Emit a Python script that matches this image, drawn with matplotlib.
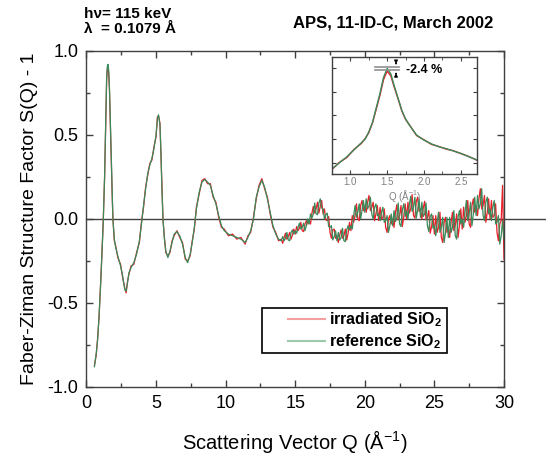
import numpy as np
import matplotlib
matplotlib.use("Agg")
import matplotlib.pyplot as plt
from matplotlib.lines import Line2D
from matplotlib.patches import Rectangle
from matplotlib.ticker import MultipleLocator, NullFormatter, FormatStrFormatter

plt.rcParams['font.family'] = ['Liberation Sans', 'DejaVu Sans']
plt.rcParams['mathtext.fontset'] = 'custom'
plt.rcParams['mathtext.rm'] = 'Liberation Sans'
plt.rcParams['mathtext.bf'] = 'Liberation Sans:bold'

# smooth low-Q part
q_low = [0.57, 0.7, 0.8, 0.9, 1.0, 1.1, 1.2, 1.3, 1.35, 1.4, 1.45, 1.5, 1.55, 1.6,
         1.65, 1.7, 1.75, 1.8, 1.85, 1.9, 2.0, 2.1, 2.25, 2.45, 2.6, 2.75, 2.85,
         2.95, 3.05, 3.2, 3.4, 3.6, 3.8, 3.95, 4.1, 4.25, 4.4, 4.55, 4.7, 4.85,
         5.0, 5.1, 5.18, 5.28, 5.35, 5.42, 5.5, 5.6, 5.7, 5.85, 6.0, 6.15, 6.3,
         6.5, 6.7, 6.9, 7.1, 7.27, 7.45, 7.6, 7.75, 7.9, 8.1, 8.3, 8.5, 8.7, 8.9,
         9.1, 9.3, 9.5, 9.7, 9.9, 10.2, 10.5, 10.8, 11.1, 11.4, 11.6, 11.8, 12.0,
         12.2, 12.4, 12.6, 12.8, 13.0, 13.2, 13.4, 13.6, 13.8, 14.0]
ref_low = [-0.88, -0.80, -0.72, -0.58, -0.42, -0.22, -0.03, 0.25, 0.45, 0.68, 0.85,
           0.91, 0.92, 0.88, 0.78, 0.62, 0.45, 0.28, 0.12, 0.0, -0.12, -0.17, -0.22,
           -0.28, -0.34, -0.42, -0.43, -0.38, -0.32, -0.29, -0.26, -0.21, -0.13,
           -0.03, 0.08, 0.18, 0.27, 0.32, 0.36, 0.42, 0.50, 0.60, 0.62, 0.56, 0.40,
           0.18, 0.0, -0.12, -0.19, -0.23, -0.19, -0.14, -0.09, -0.075, -0.10,
           -0.15, -0.23, -0.26, -0.21, -0.14, -0.05, 0.06, 0.16, 0.22, 0.235, 0.22,
           0.20, 0.14, 0.09, 0.02, -0.04, -0.07, -0.09, -0.10, -0.11, -0.12, -0.14,
           -0.11, -0.07, 0.0, 0.13, 0.19, 0.23, 0.19, 0.12, 0.04, -0.04, -0.09,
           -0.12, -0.13]
irr_low = [-0.87, -0.81, -0.71, -0.59, -0.41, -0.23, -0.02, 0.24, 0.44, 0.67, 0.83,
           0.89, 0.90, 0.86, 0.77, 0.61, 0.46, 0.27, 0.13, 0.0, -0.13, -0.16, -0.23,
           -0.27, -0.35, -0.41, -0.44, -0.37, -0.33, -0.28, -0.27, -0.20, -0.14,
           -0.02, 0.07, 0.19, 0.26, 0.33, 0.35, 0.43, 0.49, 0.61, 0.61, 0.57, 0.39,
           0.19, -0.01, -0.11, -0.20, -0.22, -0.20, -0.13, -0.10, -0.07, -0.11,
           -0.14, -0.24, -0.25, -0.22, -0.13, -0.06, 0.07, 0.15, 0.23, 0.24, 0.21,
           0.21, 0.13, 0.10, 0.01, -0.05, -0.06, -0.10, -0.09, -0.12, -0.11, -0.15,
           -0.10, -0.08, 0.01, 0.12, 0.20, 0.24, 0.18, 0.13, 0.03, -0.05, -0.08,
           -0.13, -0.12]

# noisy high-Q part, Q = 14.1 ... 30.0
q_high = [14.1, 14.2, 14.3, 14.4, 14.5, 14.6, 14.7, 14.8, 14.9, 15.0,
          15.1, 15.2, 15.3, 15.4, 15.5, 15.6, 15.7, 15.8, 15.9, 16.0,
          16.1, 16.2, 16.3, 16.4, 16.5, 16.6, 16.7, 16.8, 16.9, 17.0,
          17.1, 17.2, 17.3, 17.4, 17.5, 17.6, 17.7, 17.8, 17.9, 18.0,
          18.1, 18.2, 18.3, 18.4, 18.5, 18.6, 18.7, 18.8, 18.9, 19.0,
          19.1, 19.2, 19.3, 19.4, 19.5, 19.6, 19.7, 19.8, 19.9, 20.0,
          20.1, 20.2, 20.3, 20.4, 20.5, 20.6, 20.7, 20.8, 20.9, 21.0,
          21.1, 21.2, 21.3, 21.4, 21.5, 21.6, 21.7, 21.8, 21.9, 22.0,
          22.1, 22.2, 22.3, 22.4, 22.5, 22.6, 22.7, 22.8, 22.9, 23.0,
          23.1, 23.2, 23.3, 23.4, 23.5, 23.6, 23.7, 23.8, 23.9, 24.0,
          24.1, 24.2, 24.3, 24.4, 24.5, 24.6, 24.7, 24.8, 24.9, 25.0,
          25.1, 25.2, 25.3, 25.4, 25.5, 25.6, 25.7, 25.8, 25.9, 26.0,
          26.1, 26.2, 26.3, 26.4, 26.5, 26.6, 26.7, 26.8, 26.9, 27.0,
          27.1, 27.2, 27.3, 27.4, 27.5, 27.6, 27.7, 27.8, 27.9, 28.0,
          28.1, 28.2, 28.3, 28.4, 28.5, 28.6, 28.7, 28.8, 28.9, 29.0,
          29.1, 29.2, 29.3, 29.4, 29.5, 29.6, 29.7, 29.8, 29.9, 30.0]
ref_high = [-0.105, -0.13, -0.115, -0.08, -0.125, -0.13, -0.08, -0.065, -0.09, -0.07,
            -0.085, -0.05, -0.025, -0.06, -0.05, -0.025, -0.07, -0.04, 0.0, -0.03,
            0.03, 0.005, 0.03, 0.095, 0.03, 0.025, 0.095, 0.12, 0.065, 0.06,
            0.0, 0.025, 0.035, -0.045, -0.05, -0.04, -0.125, -0.105, -0.07, -0.13,
            -0.08, -0.125, -0.11, -0.055, -0.13, -0.135, -0.065, -0.04, -0.065, -0.04,
            -0.06, 0.02, 0.08, 0.01, 0.04, 0.09, 0.0, 0.05, 0.11, 0.04,
            0.12, 0.06, 0.08, 0.13, 0.03, 0.0, 0.07, 0.09, 0.02, 0.03,
            -0.01, 0.04, 0.07, -0.02, -0.01, 0.02, -0.08, -0.04, 0.03, -0.04,
            0.05, -0.015, 0.01, 0.095, -0.03, -0.045, 0.055, 0.09, 0.015, 0.05,
            0.0, 0.085, 0.135, 0.045, 0.07, 0.13, 0.005, 0.055, 0.12, 0.01,
            0.10, 0.015, 0.03, 0.095, -0.04, -0.075, 0.015, 0.03, -0.055, -0.04,
            -0.10, -0.02, 0.04, -0.08, -0.05, 0.01, -0.14, -0.08, 0.01, -0.11,
            0.01, -0.08, -0.05, 0.05, -0.10, -0.12, 0.01, 0.05, -0.03, 0.0,
            -0.05, 0.04, 0.11, -0.01, 0.03, 0.10, -0.04, 0.03, 0.13, 0.02,
            0.14, 0.06, 0.09, 0.18, 0.02, -0.01, 0.10, 0.13, 0.03, 0.06,
            -0.01, 0.07, 0.11, -0.03, -0.02, 0.02, -0.15, -0.10, -0.01, -0.12]
irr_high = [-0.145, -0.11, -0.085, -0.12, -0.105, -0.08, -0.12, -0.095, -0.06, -0.09,
            -0.045, -0.07, -0.055, -0.02, -0.07, -0.075, -0.03, -0.01, -0.03, -0.01,
            -0.03, 0.035, 0.075, 0.035, 0.06, 0.10, 0.035, 0.075, 0.11, 0.03,
            0.06, -0.005, -0.01, 0.015, -0.08, -0.115, -0.065, -0.06, -0.115, -0.10,
            -0.14, -0.095, -0.065, -0.115, -0.10, -0.06, -0.125, -0.085, -0.02, -0.07,
            0.02, -0.02, 0.02, 0.09, 0.0, -0.01, 0.08, 0.11, 0.05, 0.08,
            0.04, 0.10, 0.14, 0.05, 0.07, 0.10, -0.01, 0.03, 0.08, -0.01,
            0.07, 0.0, 0.01, 0.06, -0.05, -0.08, 0.0, 0.02, -0.03, 0.0,
            -0.05, 0.035, 0.085, -0.005, 0.02, 0.08, -0.045, 0.015, 0.09, 0.0,
            0.10, 0.035, 0.06, 0.145, 0.02, 0.005, 0.105, 0.13, 0.045, 0.06,
            0.0, 0.065, 0.105, -0.005, 0.01, 0.05, -0.085, -0.045, 0.02, -0.09,
            0.02, -0.08, -0.05, 0.04, -0.11, -0.14, -0.02, 0.01, -0.08, -0.05,
            -0.11, -0.02, 0.04, -0.07, -0.04, 0.03, -0.11, -0.04, 0.06, -0.06,
            0.07, -0.02, 0.02, 0.11, -0.03, -0.05, 0.08, 0.12, 0.04, 0.08,
            0.02, 0.12, 0.18, 0.06, 0.08, 0.14, -0.02, 0.04, 0.12, 0.0,
            0.11, 0.01, 0.02, 0.09, -0.08, -0.13, -0.03, -0.01, 0.20, -0.24]

# inset: first sharp diffraction peak
q_ins = [0.75, 0.85, 0.95, 1.05, 1.15, 1.2, 1.25, 1.3, 1.35, 1.4, 1.45, 1.5, 1.55,
         1.6, 1.65, 1.7, 1.75, 1.8, 1.9, 2.0, 2.1, 2.2, 2.3, 2.4, 2.5, 2.6, 2.72]
ref_ins = [0.475, 0.50, 0.525, 0.555, 0.585, 0.60, 0.63, 0.67, 0.73, 0.79, 0.86,
           0.898, 0.875, 0.82, 0.77, 0.72, 0.685, 0.66, 0.617, 0.596, 0.58, 0.568,
           0.56, 0.55, 0.54, 0.527, 0.512]
irr_ins = [0.472, 0.502, 0.522, 0.557, 0.582, 0.602, 0.627, 0.668, 0.725, 0.783,
           0.85, 0.887, 0.866, 0.815, 0.768, 0.718, 0.683, 0.661, 0.615, 0.597,
           0.578, 0.569, 0.558, 0.551, 0.539, 0.528, 0.511]

red = '#e8202a'
green = '#3a8a5a'
spine_col = '#404040'

fig = plt.figure(figsize=(5.46, 4.55), dpi=100)
ax = fig.add_axes([0.1584, 0.1495, 0.7646, 0.7385])

ax.plot(q_low + q_high, irr_low + irr_high, color=red, lw=0.9)
ax.plot(q_low + q_high, ref_low + ref_high, color=green, lw=0.9)
ax.plot([0, 33.2], [0, 0], color=spine_col, lw=1.0, clip_on=False, zorder=0)

ax.set_xlim(0, 30)
ax.set_ylim(-1.0, 1.0)
ax.xaxis.set_major_locator(MultipleLocator(5))
ax.xaxis.set_minor_locator(MultipleLocator(2.5))
ax.yaxis.set_major_locator(MultipleLocator(0.5))
ax.yaxis.set_minor_locator(MultipleLocator(0.25))
ax.yaxis.set_major_formatter(FormatStrFormatter('%.1f'))
ax.tick_params(which='both', direction='in', top=True, right=True,
               color=spine_col, width=1, labelsize=13, pad=6)
ax.tick_params(which='major', length=5)
ax.tick_params(which='minor', length=3)
for s in ax.spines.values():
    s.set_color(spine_col)
    s.set_linewidth(1)

ax.set_xlabel(r'Scattering Vector Q (Å$^{\mathregular{-1}}$)', fontsize=14.5, labelpad=11)
ax.set_ylabel('Faber-Ziman Structure Factor S(Q) - 1', fontsize=14, labelpad=7)

# legend: frame drawn separately so the box matches the wide original
ax.add_patch(Rectangle((0.42, 0.101), 0.443, 0.134, transform=ax.transAxes,
                       fill=True, facecolor='white', edgecolor='black', lw=1.2, zorder=4))
handles = [Line2D([], [], color='#f4a0a0', lw=1.5),
           Line2D([], [], color='#9cc8ac', lw=1.5)]
leg = ax.legend(handles, [r'irradiated SiO$_\mathbf{2}$', r'reference SiO$_\mathbf{2}$'],
                loc='center left', bbox_to_anchor=(0.4826, 0.168),
                prop={'weight': 'bold', 'size': 11.5}, frameon=False,
                handlelength=2.3, handletextpad=0.3, borderpad=0,
                labelspacing=0.2, borderaxespad=0)
leg.set_zorder(5)

fig.text(0.154, 0.969, 'hν= 115 keV', fontsize=11, fontweight='bold', va='center')
fig.text(0.154, 0.936, 'λ  = 0.1079 Å', fontsize=11, fontweight='bold', va='center')
fig.text(0.903, 0.949, 'APS, 11-ID-C, March 2002', fontsize=12, fontweight='bold',
         ha='right', va='center')

# inset
axi = fig.add_axes([0.608, 0.6176, 0.2656, 0.257])
axi.plot(q_ins, irr_ins, color=red, lw=1.0)
axi.plot(q_ins, ref_ins, color=green, lw=1.0)
axi.set_xlim(0.75, 2.72)
axi.set_ylim(0.453, 0.946)
axi.xaxis.set_major_locator(MultipleLocator(0.5))
axi.xaxis.set_minor_locator(MultipleLocator(0.25))
axi.xaxis.set_major_formatter(FormatStrFormatter('%.1f'))
axi.yaxis.set_major_locator(MultipleLocator(0.1))
axi.yaxis.set_major_formatter(NullFormatter())
axi.tick_params(which='both', direction='in', top=True, right=True,
                color=spine_col, labelsize=7, labelcolor='#808080', pad=2)
axi.tick_params(which='major', length=3)
axi.tick_params(which='minor', length=2)
for s in axi.spines.values():
    s.set_color(spine_col)
    s.set_linewidth(1)
axi.set_xlabel(r'Q (Å$^{\mathregular{-1}}$)', fontsize=7, color='#808080', labelpad=1)

axi.plot([1.34, 1.66], [0.904, 0.904], color='#909090', lw=1.2)
axi.plot([1.34, 1.66], [0.891, 0.891], color='#909090', lw=1.2)
axi.annotate('', xy=(1.62, 0.905), xytext=(1.62, 0.93),
             arrowprops=dict(arrowstyle='-|>', color='black', lw=0.8, mutation_scale=5))
axi.annotate('', xy=(1.62, 0.89), xytext=(1.62, 0.865),
             arrowprops=dict(arrowstyle='-|>', color='black', lw=0.8, mutation_scale=5))
axi.text(1.75, 0.893, '-2.4 %', fontsize=9, fontweight='bold', va='center')

fig.savefig('out.png', dpi=100)
